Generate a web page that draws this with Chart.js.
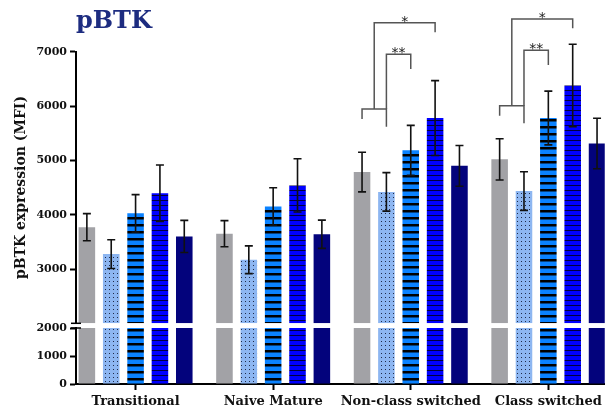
<!DOCTYPE html>
<html>
<head>
<meta charset="utf-8">
<script src="https://cdn.jsdelivr.net/npm/chart.js@4"></script>
<style>
  html, body { margin: 0; padding: 0; background: #ffffff; }
  #chart { display: block; }
</style>
</head>
<body>
<canvas id="chart" width="606" height="411"></canvas>
<script>
// B-cell subsets on the x axis
const categories = ['Transitional', 'Naive Mature', 'Non-class switched', 'Class switched'];
const categoryPositions = [0, 1, 2, 3];

// pBTK MFI means and error (one value per subset) for the five groups
const grayMean   = [3770, 3650, 4785, 5020];
const grayErr    = [250, 240, 365, 380];
const dottedMean = [3275, 3170, 4420, 4435];
const dottedErr  = [265, 255, 355, 355];
const azureMean  = [4025, 4150, 5185, 5780];
const azureErr   = [345, 345, 460, 495];
const blueMean   = [4395, 4540, 5780, 6380];
const blueErr    = [520, 490, 690, 760];
const navyMean   = [3600, 3640, 4900, 5310];
const navyErr    = [295, 260, 375, 465];

// broken y axis: lower panel 0-2000, upper panel 2000-7000
const axisBreak = 2000;
const upperTicks = [3000, 4000, 5000, 6000, 7000];
const lowerTicks = [0, 1000, 2000];

// significance brackets (levels in MFI units of the upper panel)
const comparisons = [
  { group: 2, baseBars: [0, 1], baseLevel: 5947, baseDrops: [5762, 5620],
    tests: [
      { from: 'base', to: 3, level: 7536, drop: 7359, mark: '*' },
      { from: 1, to: 2, level: 6954, drop: 6683, mark: '**' }
    ] },
  { group: 3, baseBars: [0, 1], baseLevel: 6007, baseDrops: [5823, 5683],
    tests: [
      { from: 'base', to: 3, level: 7604, drop: 7433, mark: '*' },
      { from: 1, to: 2, level: 7028, drop: 6757, mark: '**' }
    ] }
];

function makePattern(w, h, bg, paint) {
  const c = document.createElement('canvas');
  c.width = w; c.height = h;
  const g = c.getContext('2d');
  g.fillStyle = bg;
  g.fillRect(0, 0, w, h);
  paint(g);
  return g.createPattern(c, 'repeat');
}

const dotted = makePattern(4, 4, '#8db6f1', g => {
  g.fillStyle = '#1f2a48';
  g.fillRect(1, 1, 1, 1);
});
const azureStripes = makePattern(1, 7, '#0a82ff', g => {
  g.fillStyle = '#000000';
  g.fillRect(0, 0, 1, 2.5);
});
const blueLines = makePattern(1, 5, '#0000ff', g => {
  g.fillStyle = '#000040';
  g.fillRect(0, 0, 1, 1);
});

const series = [
  { mean: grayMean,   err: grayErr,   fill: '#a2a2a6' },
  { mean: dottedMean, err: dottedErr, fill: dotted },
  { mean: azureMean,  err: azureErr,  fill: azureStripes },
  { mean: blueMean,   err: blueErr,   fill: blueLines },
  { mean: navyMean,   err: navyErr,   fill: '#03037c' }
];

const datasets = [];
series.forEach((s, k) => {
  datasets.push({
    data: s.mean.map(v => [axisBreak, v]),
    means: s.mean,
    errors: s.err,
    yAxisID: 'yHigh',
    stack: 'g' + k,
    backgroundColor: s.fill,
    borderWidth: 0
  });
});
series.forEach((s, k) => {
  datasets.push({
    data: s.mean.map(v => [0, Math.min(v, axisBreak)]),
    yAxisID: 'yLow',
    stack: 'g' + k,
    backgroundColor: s.fill,
    borderWidth: 0
  });
});

const serif = 'DejaVu Serif';

// mean +/- error whiskers on the upper panel
const errorBars = {
  id: 'errorBars',
  afterDatasetsDraw(chart) {
    const ctx = chart.ctx;
    const y = chart.scales.yHigh;
    ctx.save();
    ctx.strokeStyle = '#111111';
    ctx.lineWidth = 1.6;
    chart.data.datasets.forEach((ds, i) => {
      if (!ds.errors) return;
      chart.getDatasetMeta(i).data.forEach((bar, j) => {
        const m = ds.means[j], e = ds.errors[j];
        const top = y.getPixelForValue(m + e);
        const bottom = y.getPixelForValue(m - e);
        const cap = 4;
        ctx.beginPath();
        ctx.moveTo(bar.x, top); ctx.lineTo(bar.x, bottom);
        ctx.moveTo(bar.x - cap, top); ctx.lineTo(bar.x + cap, top);
        ctx.moveTo(bar.x - cap, bottom); ctx.lineTo(bar.x + cap, bottom);
        ctx.stroke();
      });
    });
    ctx.restore();
  }
};

// significance brackets above the switched subsets
const sigBrackets = {
  id: 'sigBrackets',
  afterDatasetsDraw(chart) {
    const ctx = chart.ctx;
    const y = chart.scales.yHigh;
    const barX = (g, b) => chart.getDatasetMeta(b).data[g].x;
    ctx.save();
    ctx.strokeStyle = '#555555';
    ctx.lineWidth = 1.5;
    ctx.fillStyle = '#222222';
    ctx.font = '14px "DejaVu Sans"';
    ctx.textAlign = 'center';
    ctx.textBaseline = 'alphabetic';
    comparisons.forEach(c => {
      const x0 = barX(c.group, c.baseBars[0]);
      const x1 = barX(c.group, c.baseBars[1]);
      const yb = y.getPixelForValue(c.baseLevel);
      ctx.beginPath();
      ctx.moveTo(x0, y.getPixelForValue(c.baseDrops[0]));
      ctx.lineTo(x0, yb);
      ctx.lineTo(x1, yb);
      ctx.lineTo(x1, y.getPixelForValue(c.baseDrops[1]));
      ctx.stroke();
      c.tests.forEach(t => {
        const xa = t.from === 'base' ? (x0 + x1) / 2 : barX(c.group, t.from);
        const xb = barX(c.group, t.to);
        const yl = y.getPixelForValue(t.level);
        ctx.beginPath();
        ctx.moveTo(xa, yb);
        ctx.lineTo(xa, yl);
        ctx.lineTo(xb, yl);
        ctx.lineTo(xb, y.getPixelForValue(t.drop));
        ctx.stroke();
        ctx.fillText(t.mark, (xa + xb) / 2, yl + 3);
      });
    });
    ctx.restore();
  }
};

// small marks on each side of the axis gap
const breakMarks = {
  id: 'breakMarks',
  afterDraw(chart) {
    const ctx = chart.ctx;
    const x = chart.chartArea.left;
    const ys = [chart.scales.yHigh.bottom, chart.scales.yLow.top];
    ctx.save();
    ctx.strokeStyle = '#000000';
    ctx.lineWidth = 1.5;
    ys.forEach(v => {
      ctx.beginPath();
      ctx.moveTo(x - 5, v);
      ctx.lineTo(x + 5, v);
      ctx.stroke();
    });
    ctx.restore();
  }
};

const tickGrid = {
  display: true,
  drawOnChartArea: false,
  drawTicks: true,
  tickLength: 6,
  tickWidth: 2,
  tickColor: '#000000',
  offset: false
};
const axisBorder = { display: true, color: '#000000', width: 2 };
const tickFont = { family: serif, size: 11, weight: 'bold' };

new Chart(document.getElementById('chart'), {
  type: 'bar',
  data: { labels: categoryPositions, datasets },
  options: {
    responsive: false,
    animation: false,
    devicePixelRatio: 1,
    layout: { padding: 0 },
    datasets: { bar: { categoryPercentage: 0.885, barPercentage: 0.68 } },
    plugins: {
      legend: { display: false },
      tooltip: { enabled: false },
      title: {
        display: true,
        text: 'pBTK',
        align: 'start',
        fullSize: false,
        color: '#1d2c80',
        font: { family: serif, size: 24, weight: 'bold' },
        padding: { top: 7, bottom: 16 }
      }
    },
    scales: {
      x: {
        type: 'linear',
        min: -0.433,
        max: 3.41,
        offset: false,
        afterBuildTicks: s => { s.ticks = categoryPositions.map(v => ({ value: v })); },
        afterFit: s => { s.height = 27; },
        border: axisBorder,
        grid: tickGrid,
        ticks: {
          autoSkip: false,
          maxRotation: 0,
          padding: 4,
          color: '#111111',
          font: { family: serif, size: 13, weight: 'bold' },
          callback: v => categories[v]
        }
      },
      yHigh: {
        type: 'linear',
        position: 'left',
        stack: 'mfi',
        stackWeight: 271.5,
        weight: 3,
        stacked: false,
        min: axisBreak,
        max: 7000,
        afterBuildTicks: s => { s.ticks = upperTicks.map(v => ({ value: v })); },
        afterFit: s => { s.width = 76; },
        border: axisBorder,
        grid: tickGrid,
        ticks: { padding: 3, color: '#111111', font: tickFont, callback: v => String(v) },
        title: {
          display: true,
          text: 'pBTK expression (MFI)',
          color: '#111111',
          font: { family: serif, size: 14, weight: 'bold' },
          padding: { top: 13, bottom: 0 }
        }
      },
      yGap: {
        type: 'linear',
        position: 'left',
        stack: 'mfi',
        stackWeight: 4.7,
        weight: 2,
        display: false
      },
      yLow: {
        type: 'linear',
        position: 'left',
        stack: 'mfi',
        stackWeight: 56,
        weight: 1,
        stacked: false,
        min: 0,
        max: axisBreak,
        afterBuildTicks: s => { s.ticks = lowerTicks.map(v => ({ value: v })); },
        afterFit: s => { s.width = 76; },
        border: axisBorder,
        grid: tickGrid,
        ticks: { padding: 3, color: '#111111', font: tickFont, callback: v => String(v) }
      }
    }
  },
  plugins: [errorBars, sigBrackets, breakMarks]
});
</script>
</body>
</html>
